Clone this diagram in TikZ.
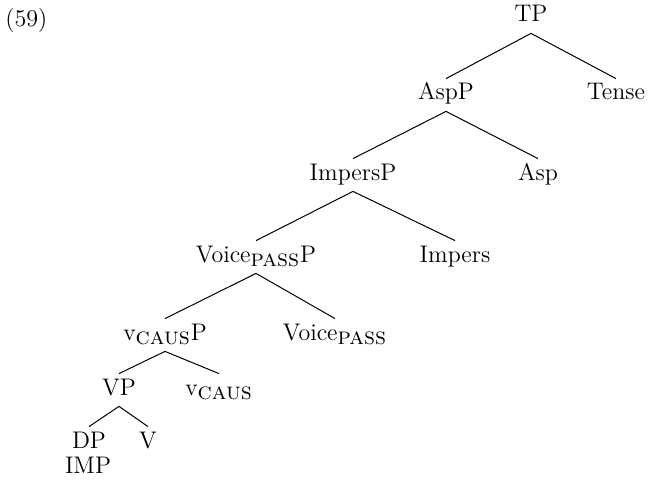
\documentclass[tikz,border=0pt]{standalone}
\usepackage{fontspec}
\newcommand{\fsub}[1]{$_{\textsc{#1}}$}
\begin{document}
\begin{tikzpicture}[x=0.5pt,y=-0.5pt,
  lab/.style={anchor=base,inner xsep=0pt,inner ysep=2.5pt,
    text height=8pt,text depth=3pt,font=\fontsize{12}{14}\selectfont},
  edge/.style={line width=0.5pt}]
\useasboundingbox (0,0) rectangle (648,481);
% example number
\node[anchor=base west,inner sep=0pt,font=\fontsize{12}{14}\selectfont] (num) at (5,27) {(59)};
% tree nodes
\node[lab] (TP) at (531,22) {TP};
\node[lab] (AspP) at (446,100) {AspP};
\node[lab] (Tense) at (616,100) {Tense};
\node[lab] (ImpersP) at (353,180) {ImpersP};
\node[lab] (Asp) at (538,180) {Asp};
\node[lab] (VoiceP) at (256,262) {Voice\fsub{pass}P};
\node[lab] (Impers) at (455,262) {Impers};
\node[lab] (vP) at (165,340) {v\fsub{caus}P};
\node[lab] (Voice) at (335,340) {Voice\fsub{pass}};
\node[lab] (VP) at (119,395) {VP};
\node[lab] (v) at (219,395) {v\fsub{caus}};
\node[lab] (DP) at (89,448) {DP};
\node[lab] (V) at (148,448) {V};
\node[lab] (IMP) at (88,473) {IMP};
% branches
\draw[edge] (AspP.north) -- (TP.south) -- (Tense.north);
\draw[edge] (ImpersP.north) -- (AspP.south) -- (Asp.north);
\draw[edge] (VoiceP.north) -- (ImpersP.south) -- (Impers.north);
\draw[edge] (vP.north) -- (VoiceP.south) -- (Voice.north);
\draw[edge] (VP.north) -- (vP.south) -- (v.north);
\draw[edge] (DP.north) -- (VP.south) -- (V.north);
\end{tikzpicture}
\end{document}
